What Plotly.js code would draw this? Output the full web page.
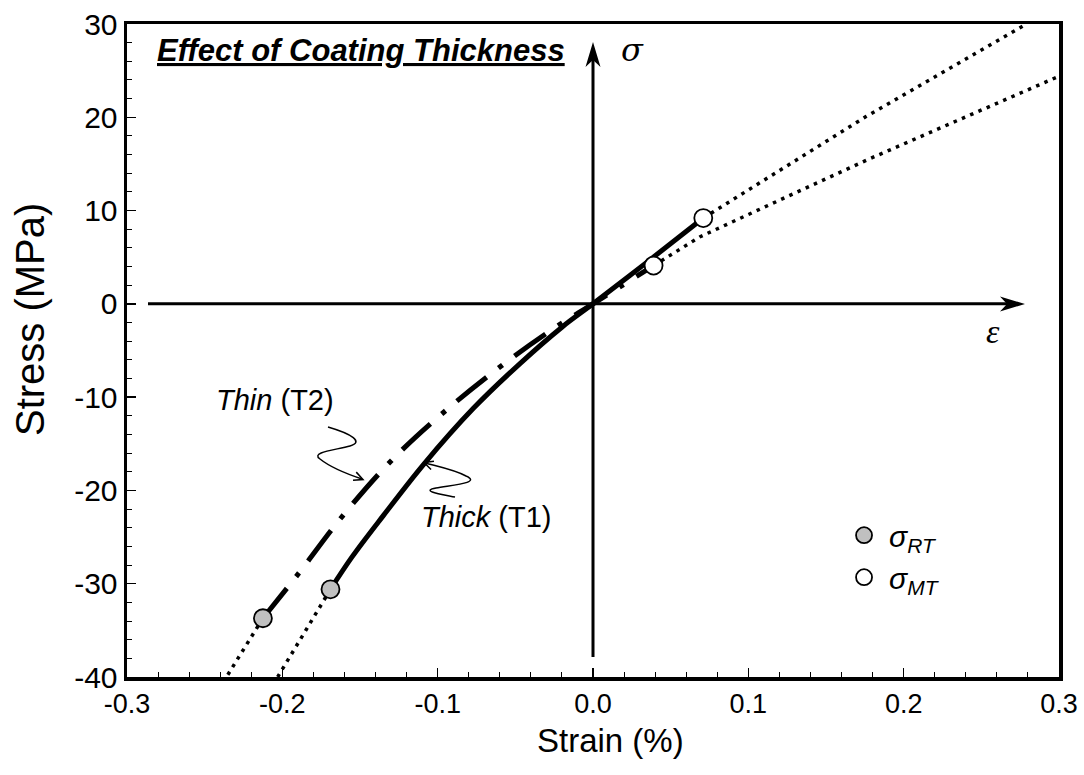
<!DOCTYPE html>
<html>
<head>
<meta charset="utf-8">
<script src="https://cdn.plot.ly/plotly-3.0.1.min.js"></script>
<style>html,body{margin:0;padding:0;background:#fff;}#chart{width:1084px;height:775px;}</style>
</head>
<body>
<div id="chart"></div>
<script>
// ---- Data ----
var thickX = [-0.169, -0.155, -0.135, -0.109, -0.077, -0.047, -0.020, 0, 0.035, 0.071];
var thickY = [-30.6, -27.1, -22.7, -17.2, -11.2, -6.4, -2.5, 0, 4.5, 9.2];
var thinX  = [-0.2125, -0.190, -0.161, -0.128, -0.091, -0.053, -0.024, 0, 0.039];
var thinY  = [-33.7, -29.0, -22.7, -16.5, -10.9, -5.9, -2.5, 0, 4.1];
var thickLowExtX = [-0.169, -0.203];
var thickLowExtY = [-30.6, -40];
var thinLowExtX  = [-0.2125, -0.236];
var thinLowExtY  = [-33.7, -40];
var thickHighExtX = [0.071, 0.176, 0.279];
var thickHighExtY = [9.2, 20.1, 30];
var thinHighExtX  = [0.039, 0.069, 0.176, 0.3];
var thinHighExtY  = [4.1, 7.2, 15.4, 24.4];
var rtX = [-0.169, -0.2125];
var rtY = [-30.6, -33.7];
var mtX = [0.071, 0.039];
var mtY = [9.2, 4.1];
var xTicks = [-0.3, -0.2, -0.1, 0.0, 0.1, 0.2, 0.3];
var xTickText = ['-0.3', '-0.2', '-0.1', '0.0', '0.1', '0.2', '0.3'];
var yTicks = [-40, -30, -20, -10, 0, 10, 20, 30];
var yTickText = ['-40', '-30', '-20', '-10', '0', '10', '20', '30'];

// ---- Layout helpers (pixel -> data) ----
var L = 127, R = 1059, T = 24, B = 677;
function px2x(p) { return -0.3 + (p - L) / (R - L) * 0.6; }
function py2y(p) { return 30 - (p - T) / (B - T) * 70; }
function pt(p) { return px2x(p[0]).toFixed(5) + ',' + py2y(p[1]).toFixed(4); }
function path(cmds) {
  return cmds.map(function (c) { return typeof c === 'string' ? c : pt(c); }).join(' ');
}
function head(tx, ty, dx, dy, len, hw, notch) {
  var n = Math.sqrt(dx * dx + dy * dy); dx /= n; dy /= n;
  var nx = -dy, ny = dx;
  var bx = tx - dx * len, by = ty - dy * len;
  var mx = tx - dx * (len - notch), my = ty - dy * (len - notch);
  return path(['M', [tx, ty], 'L', [bx + nx * hw, by + ny * hw], 'L', [mx, my],
               'L', [bx - nx * hw, by - ny * hw], 'Z']);
}
function vhead(tx, ty, dx, dy, len, ang) {
  var n = Math.sqrt(dx * dx + dy * dy); dx /= n; dy /= n;
  var c = Math.cos(ang), s = Math.sin(ang);
  var ax = -(dx * c - dy * s), ay = -(dx * s + dy * c);
  var bx = -(dx * c + dy * s), by = -(-dx * s + dy * c);
  return path(['M', [tx + ax * len, ty + ay * len], 'L', [tx, ty], 'L', [tx + bx * len, ty + by * len]]);
}

var dotted = {color: '#000', width: 3.5, dash: '3.5px,5.5px'};

var traces = [
  {x: thickLowExtX, y: thickLowExtY, mode: 'lines', line: dotted, showlegend: false, hoverinfo: 'skip'},
  {x: thinLowExtX, y: thinLowExtY, mode: 'lines', line: dotted, showlegend: false, hoverinfo: 'skip'},
  {x: thickHighExtX, y: thickHighExtY, mode: 'lines', line: dotted, showlegend: false, hoverinfo: 'skip'},
  {x: thinHighExtX, y: thinHighExtY, mode: 'lines', line: dotted, showlegend: false, hoverinfo: 'skip'},
  {x: thinX, y: thinY, mode: 'lines', name: 'Thin (T2)', showlegend: false,
   line: {color: '#000', width: 5, dash: '38px,15px,5px,15px', shape: 'spline', smoothing: 1}},
  {x: thickX, y: thickY, mode: 'lines', name: 'Thick (T1)', showlegend: false,
   line: {color: '#000', width: 5, shape: 'spline', smoothing: 1}},
  {x: rtX, y: rtY, mode: 'markers', name: '<i>σ</i><sub><i>RT</i></sub>',
   marker: {size: 18, color: '#c0c0c0', line: {color: '#000', width: 1.8}}},
  {x: mtX, y: mtY, mode: 'markers', name: '<i>σ</i><sub><i>MT</i></sub>',
   marker: {size: 18, color: '#ffffff', line: {color: '#000', width: 1.8}}}
];

var font = 'Liberation Sans, Arial, sans-serif';
var blk = {color: '#000', width: 0};

var layout = {
  width: 1084, height: 775,
  margin: {l: L, r: 1084 - R, t: T, b: 775 - B},
  paper_bgcolor: '#fff', plot_bgcolor: '#fff',
  font: {family: font, color: '#000'},
  showlegend: true,
  legend: {x: 0.764, y: 0.257, xanchor: 'left', yanchor: 'top', bgcolor: 'rgba(0,0,0,0)',
           font: {size: 30, family: font}, itemwidth: 40, tracegroupgap: 0},
  xaxis: {
    range: [-0.3, 0.3], tickvals: xTicks, ticktext: xTickText,
    showgrid: false, zeroline: false,
    showline: true, linecolor: '#000', linewidth: 3.5, mirror: true,
    ticks: 'inside', ticklen: 9, tickwidth: 1.5, tickcolor: '#000',
    minor: {dtick: 0.02, ticks: 'inside', ticklen: 5, tickwidth: 1, tickcolor: '#000'},
    tickfont: {size: 27, family: font}
  },
  yaxis: {
    range: [-40, 30], tickvals: yTicks, ticktext: yTickText,
    showgrid: false, zeroline: false,
    showline: true, linecolor: '#000', linewidth: 3.5, mirror: true,
    ticks: 'inside', ticklen: 9, tickwidth: 1.5, tickcolor: '#000',
    minor: {dtick: 2, ticks: 'inside', ticklen: 5, tickwidth: 1, tickcolor: '#000'},
    tickfont: {size: 30, family: font}
  },
  shapes: [
    {type: 'line', xref: 'x', yref: 'y', x0: px2x(148), y0: 0, x1: px2x(1012), y1: 0,
     line: {color: '#000', width: 3}},
    {type: 'path', xref: 'x', yref: 'y', fillcolor: '#000', line: blk, path: head(1025, 304, 1, 0, 25, 7.5, 7)},
    {type: 'line', xref: 'x', yref: 'y', x0: 0, y0: py2y(657), x1: 0, y1: py2y(56),
     line: {color: '#000', width: 3}},
    {type: 'path', xref: 'x', yref: 'y', fillcolor: '#000', line: blk, path: head(593, 42, 0, -1, 25, 7.5, 7)},
    {type: 'path', xref: 'x', yref: 'y', line: {color: '#000', width: 1.5},
     path: path(['M', [328, 427], 'C', [352, 434], [364, 442], [350, 446], 'C', [336, 450], [310, 452], [320, 459], 'C', [330, 467], [347, 474], [362, 479]])},
    {type: 'path', xref: 'x', yref: 'y', line: {color: '#000', width: 1.5},
     path: vhead(363, 479.5, 1, 0.4, 10, 0.45)},
    {type: 'path', xref: 'x', yref: 'y', line: {color: '#000', width: 1.5},
     path: path(['M', [455, 497], 'C', [440, 494], [420, 491], [436, 488], 'C', [452, 485], [482, 483], [466, 476], 'C', [455, 470], [440, 467], [425, 463]])},
    {type: 'path', xref: 'x', yref: 'y', line: {color: '#000', width: 1.5},
     path: vhead(424, 462.5, -1, -0.35, 10, 0.45)}
  ],
  annotations: [
    // axis titles
    {x: (30 - L) / (R - L), y: (B - 320) / (B - T), xref: 'paper', yref: 'paper', showarrow: false,
     xanchor: 'center', yanchor: 'middle',
     textangle: -90, text: 'Stress (MPa)', font: {size: 40, family: font}},
    {x: (610 - L) / (R - L), y: (B - 740) / (B - T), xref: 'paper', yref: 'paper', showarrow: false,
     xanchor: 'center', yanchor: 'middle',
     text: 'Strain (%)', font: {size: 33, family: font}},
    {x: px2x(632), y: py2y(50), xref: 'x', yref: 'y', showarrow: false, text: '<i>σ</i>',
     font: {size: 32, family: 'DejaVu Serif, Liberation Serif, serif'}},
    {x: px2x(993), y: py2y(331), xref: 'x', yref: 'y', showarrow: false, text: '<i>ε</i>',
     font: {size: 34, family: 'Liberation Serif, DejaVu Serif, serif'}},
    {x: px2x(155), y: py2y(50), xref: 'x', yref: 'y', xanchor: 'left', showarrow: false,
     text: 'Effect of Coating Thickness',
     font: {size: 31, family: font, weight: 'bold', style: 'italic', lineposition: 'under'}},
    {x: px2x(275), y: py2y(400), xref: 'x', yref: 'y', showarrow: false,
     text: '<i>Thin</i> (T2)', font: {size: 29, family: font}},
    {x: px2x(486), y: py2y(517), xref: 'x', yref: 'y', showarrow: false,
     text: '<i>Thick</i> (T1)', font: {size: 29, family: font}}
  ]
};

Plotly.newPlot('chart', traces, layout, {displayModeBar: false, staticPlot: true});
</script>
</body>
</html>
